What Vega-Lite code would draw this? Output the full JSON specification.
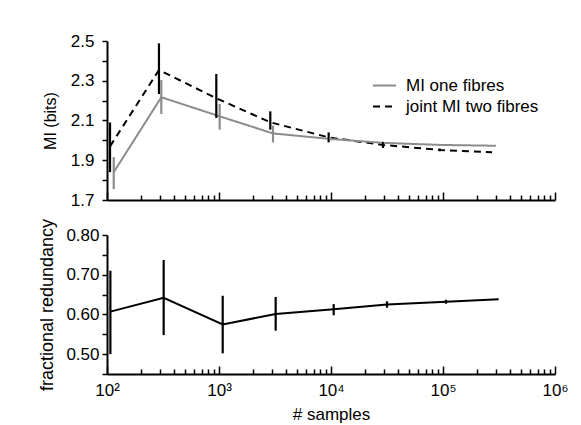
{
  "$schema": "https://vega.github.io/schema/vega-lite/v6.json",
  "background": "white",
  "padding": {"left": 38, "top": 32, "right": 10, "bottom": 4},
  "spacing": 10,
  "config": {
    "font": "Liberation Sans",
    "view": {"stroke": null},
    "axis": {
      "domainColor": "#000000",
      "domainWidth": 2,
      "tickColor": "#000000",
      "tickWidth": 1.5,
      "labelColor": "#000000",
      "titleColor": "#000000",
      "labelFont": "Liberation Sans",
      "titleFont": "Liberation Sans",
      "labelFontSize": 17,
      "titleFontSize": 17,
      "titleFontWeight": "normal",
      "grid": false,
      "labelOverlap": false,
      "labelFlush": false
    }
  },
  "datasets": {
    "mi": [
      {"series": "joint MI two fibres", "n": 106.4, "mi": 1.97, "lo": 1.84, "hi": 2.09},
      {"series": "joint MI two fibres", "n": 291, "mi": 2.354, "lo": 2.233, "hi": 2.488},
      {"series": "joint MI two fibres", "n": 946, "mi": 2.212, "lo": 2.113, "hi": 2.334},
      {"series": "joint MI two fibres", "n": 2871, "mi": 2.091, "lo": 2.054, "hi": 2.146},
      {"series": "joint MI two fibres", "n": 9528, "mi": 2.015, "lo": 1.99, "hi": 2.04},
      {"series": "joint MI two fibres", "n": 29107, "mi": 1.977, "lo": 1.962, "hi": 1.992},
      {"series": "joint MI two fibres", "n": 93540, "mi": 1.952, "lo": 1.945, "hi": 1.959},
      {"series": "joint MI two fibres", "n": 274157, "mi": 1.94, "lo": 1.94, "hi": 1.94},
      {"series": "MI one fibres", "n": 114.8, "mi": 1.84, "lo": 1.755, "hi": 1.916},
      {"series": "MI one fibres", "n": 305.5, "mi": 2.217, "lo": 2.133, "hi": 2.304},
      {"series": "MI one fibres", "n": 1014, "mi": 2.121, "lo": 2.054, "hi": 2.183},
      {"series": "MI one fibres", "n": 3034, "mi": 2.035, "lo": 1.99, "hi": 2.074},
      {"series": "MI one fibres", "n": 9886, "mi": 2.007, "lo": 2.0, "hi": 2.014},
      {"series": "MI one fibres", "n": 30200, "mi": 1.987, "lo": 1.983, "hi": 1.991},
      {"series": "MI one fibres", "n": 95500, "mi": 1.977, "lo": 1.977, "hi": 1.977},
      {"series": "MI one fibres", "n": 297200, "mi": 1.973, "lo": 1.973, "hi": 1.973}
    ],
    "red": [
      {"n": 107.2, "r": 0.607, "lo": 0.5, "hi": 0.71},
      {"n": 320.6, "r": 0.642, "lo": 0.548, "hi": 0.737},
      {"n": 1079, "r": 0.575, "lo": 0.502, "hi": 0.647},
      {"n": 3206, "r": 0.601, "lo": 0.559, "hi": 0.644},
      {"n": 10568, "r": 0.613, "lo": 0.598, "hi": 0.626},
      {"n": 31623, "r": 0.625, "lo": 0.617, "hi": 0.633},
      {"n": 106400, "r": 0.632, "lo": 0.627, "hi": 0.637},
      {"n": 314050, "r": 0.638, "lo": 0.638, "hi": 0.638}
    ]
  },
  "vconcat": [
    {
      "width": 448,
      "height": 159,
      "data": {"name": "mi"},
      "layer": [
        {
          "mark": {"type": "line", "strokeWidth": 2},
          "encoding": {
            "x": {
              "field": "n", "type": "quantitative",
              "scale": {"type": "log", "domain": [100, 1000000], "nice": false},
              "axis": {
                "title": null,
                "labels": false,
                "tickCount": 200,
                "values": [100,200,300,400,500,600,700,800,900,1000,2000,3000,4000,5000,6000,7000,8000,9000,10000,20000,30000,40000,50000,60000,70000,80000,90000,100000,200000,300000,400000,500000,600000,700000,800000,900000,1000000],
                "tickSize": {"condition": {"test": "datum.value == 100 || datum.value == 1000 || datum.value == 10000 || datum.value == 100000 || datum.value == 1000000", "value": -8}, "value": -5}
              }
            },
            "y": {
              "field": "mi", "type": "quantitative",
              "scale": {"domain": [1.7, 2.5], "nice": false, "zero": false},
              "axis": {
                "title": "MI (bits)",
                "titleFontSize": 16,
                "titlePadding": 12,
                "tickCount": 200,
                "values": [1.7,1.8,1.9,2.0,2.1,2.2,2.3,2.4,2.5],
                "format": ".1f",
                "labelExpr": "round(datum.value*10) % 2 == 1 ? datum.label : ''",
                "tickSize": 5,
                "labelPadding": 8
              }
            },
            "color": {
              "field": "series", "type": "nominal",
              "scale": {"domain": ["MI one fibres", "joint MI two fibres"], "range": ["#8c8c8c", "#000000"]},
              "legend": {"title": null, "orient": "none", "legendX": 265, "legendY": 32, "labelFontSize": 17, "labelFont": "Liberation Sans", "labelColor": "#000000", "symbolType": "stroke", "symbolSize": 529, "symbolStrokeWidth": 2, "labelOffset": 9, "rowPadding": -2}
            },
            "strokeDash": {
              "field": "series", "type": "nominal",
              "scale": {"domain": ["MI one fibres", "joint MI two fibres"], "range": [[1, 0], [7, 5]]},
              "legend": {"title": null, "orient": "none", "legendX": 265, "legendY": 32, "labelFontSize": 17, "labelFont": "Liberation Sans", "labelColor": "#000000", "symbolType": "stroke", "symbolSize": 529, "symbolStrokeWidth": 2, "labelOffset": 9, "rowPadding": -2}
            }
          }
        },
        {
          "mark": {"type": "rule", "strokeWidth": 2.2},
          "encoding": {
            "x": {"field": "n", "type": "quantitative"},
            "y": {"field": "lo", "type": "quantitative"},
            "y2": {"field": "hi"},
            "color": {"field": "series", "type": "nominal", "legend": null}
          }
        }
      ]
    },
    {
      "width": 448,
      "height": 139,
      "data": {"name": "red"},
      "layer": [
        {
          "mark": {"type": "line", "strokeWidth": 2, "color": "#000000"},
          "encoding": {
            "x": {
              "field": "n", "type": "quantitative",
              "scale": {"type": "log", "domain": [100, 1000000], "nice": false},
              "axis": {
                "title": "# samples",
                "titlePadding": 5,
                "tickCount": 200,
                "values": [100,200,300,400,500,600,700,800,900,1000,2000,3000,4000,5000,6000,7000,8000,9000,10000,20000,30000,40000,50000,60000,70000,80000,90000,100000,200000,300000,400000,500000,600000,700000,800000,900000,1000000],
                "labelExpr": "datum.value == 100 ? '10²' : datum.value == 1000 ? '10³' : datum.value == 10000 ? '10⁴' : datum.value == 100000 ? '10⁵' : datum.value == 1000000 ? '10⁶' : ''",
                "tickSize": {"condition": {"test": "datum.value == 100 || datum.value == 1000 || datum.value == 10000 || datum.value == 100000 || datum.value == 1000000", "value": -8}, "value": -5},
                "labelPadding": 16
              }
            },
            "y": {
              "field": "r", "type": "quantitative",
              "scale": {"domain": [0.45, 0.8], "nice": false, "zero": false},
              "axis": {
                "title": "fractional redundancy",
                "titleFontSize": 18,
                "titlePadding": 9,
                "tickCount": 200,
                "values": [0.45,0.5,0.55,0.6,0.65,0.7,0.75,0.8],
                "format": ".2f",
                "labelExpr": "round(datum.value*100) % 10 == 0 ? datum.label : ''",
                "tickSize": 5,
                "labelPadding": 3
              }
            }
          }
        },
        {
          "mark": {"type": "rule", "strokeWidth": 2.2, "color": "#000000"},
          "encoding": {
            "x": {"field": "n", "type": "quantitative"},
            "y": {"field": "lo", "type": "quantitative"},
            "y2": {"field": "hi"}
          }
        }
      ]
    }
  ]
}
